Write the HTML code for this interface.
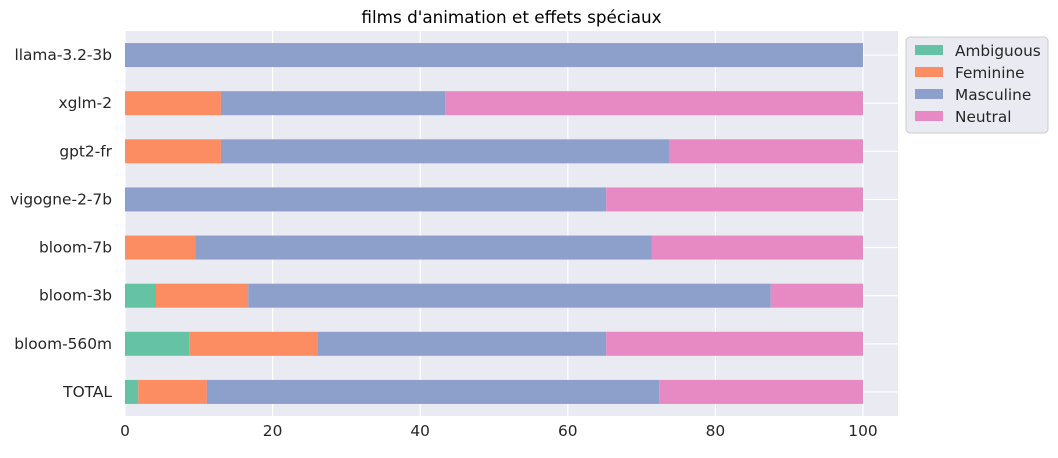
<!DOCTYPE html>
<html><head><meta charset="utf-8"><style>
body{margin:0;background:#fff;font-family:"DejaVu Sans","Liberation Sans",sans-serif;}
</style></head><body>
<svg id="c" width="1058" height="454" xmlns="http://www.w3.org/2000/svg" font-family="DejaVu Sans, sans-serif"></svg>
<script>
const categories=["llama-3.2-3b","xglm-2","gpt2-fr","vigogne-2-7b","bloom-7b","bloom-3b","bloom-560m","TOTAL"];
const ambiguous=[0,0,0,0,0,4.2,8.7,1.8];
const feminine=[0,13,13,0,9.5,12.5,17.4,9.3];
const masculine=[100,30.4,60.8,65.2,61.9,70.8,39.1,61.3];
const neutral=[0,56.6,26.2,34.8,28.6,12.5,34.8,27.6];
const xTicks=[0,20,40,60,80,100];
const seriesNames=["Ambiguous","Feminine","Masculine","Neutral"];
const colors=["#66c2a5","#fc8d62","#8da0cb","#e78ac3"];
const svg=document.getElementById('c');
const NS="http://www.w3.org/2000/svg";
const L=125,R=898,T=31,B=416;
const x=v=>L+v*(863-L)/100;
const bandH=(B-T)/categories.length;
const y=i=>T+bandH*(i+0.5);
function mk(tag,a,p){const e=document.createElementNS(NS,tag);for(const k in a)e.setAttribute(k,a[k]);(p||svg).appendChild(e);return e;}
let bg=mk('rect',{x:L,y:T,width:R-L,height:B-T,fill:'#eaeaf2'});


xTicks.forEach(t=>{
 let g=mk('line',{x1:x(t),x2:x(t),y1:T,y2:B,stroke:'#fff','stroke-width':1.2});
 
 
 let tx=mk('text',{x:x(t),y:B+20,'text-anchor':'middle','font-size':15.4,fill:'#262626'});
 tx.textContent=t;
 
 
});
categories.forEach((c,i)=>{
 let g=mk('line',{x1:L,x2:R,y1:y(i),y2:y(i),stroke:'#fff','stroke-width':1.2});
 
 
 let tx=mk('text',{x:L-13,y:y(i)+5,'text-anchor':'end','font-size':15.4,fill:'#262626'});
 tx.textContent=c;
 
 
});
const series=[ambiguous,feminine,masculine,neutral];
categories.forEach((c,i)=>{
 let acc=0;
 series.forEach((s,k)=>{
  const v=s[i];
  if(v>0){
   let r=mk('rect',{x:x(acc),y:y(i)-12,width:x(acc+v)-x(acc),height:24,fill:colors[k]});
   
   
  }
  acc+=v;
 });
});
let title=mk('text',{x:(L+R)/2,y:23,'text-anchor':'middle','font-size':16.8,fill:'#000'});
title.textContent="films d'animation et effets spéciaux";


let lg=mk('g',{});


mk('rect',{x:906,y:37,width:142,height:96,rx:4,fill:'#eaeaf2',stroke:'#ccc'},lg);
seriesNames.forEach((n,k)=>{
 let sw=mk('rect',{x:915,y:45+k*22,width:28,height:10,fill:colors[k]},lg);
 
 
 let t=mk('text',{x:955,y:56+k*22,'font-size':15.3,fill:'#262626'},lg);
 t.textContent=n;
 
 
});
</script>
</body></html>
